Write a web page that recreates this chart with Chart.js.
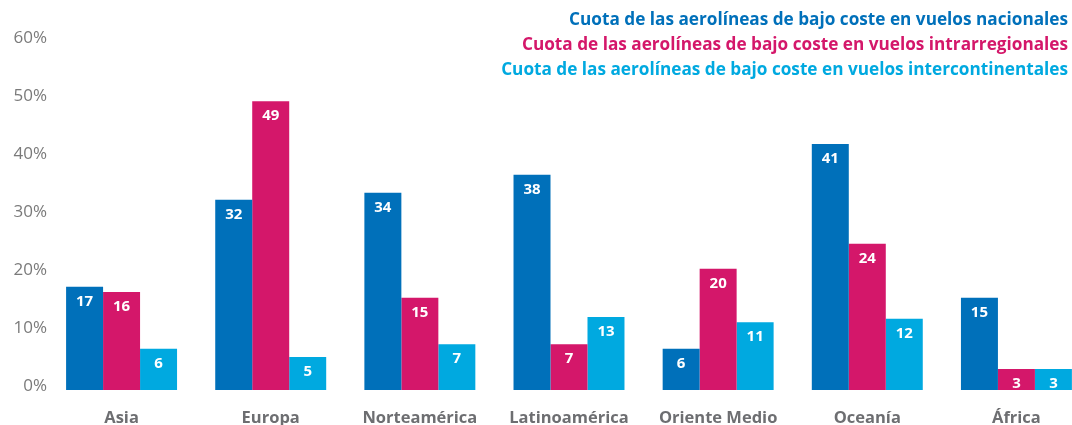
<!DOCTYPE html>
<html><head><meta charset="utf-8">
<script src="https://cdn.jsdelivr.net/npm/chart.js@4/dist/chart.umd.min.js"></script>
<style>
html,body{margin:0;padding:0;background:#fff;overflow:hidden;}
#wrap{position:absolute;left:0;top:0;width:1091px;height:425px;}
</style></head>
<body>
<div id="wrap"><canvas id="c" width="1091" height="425"></canvas></div>
<script>
const categories = ['Asia','Europa','Norteamérica','Latinoamérica','Oriente Medio','Oceanía','África'];
const seriesNames = [
  'Cuota de las aerolíneas de bajo coste en vuelos nacionales',
  'Cuota de las aerolíneas de bajo coste en vuelos intrarregionales',
  'Cuota de las aerolíneas de bajo coste en vuelos intercontinentales'
];
// bar heights as drawn (percent)
const nacionales = [17.1, 32.1, 33.3, 36.4, 6.4, 41.7, 15.2];
const intrarregionales = [16.2, 49.1, 15.2, 7.2, 20.2, 24.5, 2.9];
const intercontinentales = [6.4, 5.0, 7.2, 11.9, 11.0, 11.6, 2.9];
// printed value labels
const labelsNacionales = ['17','32','34','38','6','41','15'];
const labelsIntrarregionales = ['16','49','15','7','20','24','3'];
const labelsIntercontinentales = ['6','5','7','13','11','12','3'];
const yTicks = [0,10,20,30,40,50,60];

const colors = ['#0070ba','#d4176a','#00a9e0'];
const FONT = '"Open Sans", "DejaVu Sans", sans-serif';
const allLabels = [labelsNacionales, labelsIntrarregionales, labelsIntercontinentales];

const valueLabels = {
  id:'valueLabels',
  afterDatasetsDraw(chart){
    const ctx = chart.ctx;
    ctx.save();
    ctx.fillStyle = '#ffffff';
    ctx.font = 'bold 15px ' + FONT;
    ctx.textAlign = 'center';
    ctx.textBaseline = 'middle';
    chart.data.datasets.forEach((ds, i) => {
      chart.getDatasetMeta(i).data.forEach((el, j) => {
        ctx.fillText(allLabels[i][j], el.x, el.y + 15);
      });
    });
    ctx.restore();
  }
};
const textLegend = {
  id:'textLegend',
  afterDraw(chart){
    const ctx = chart.ctx;
    ctx.save();
    ctx.font = 'bold 17.2px ' + FONT;
    ctx.textAlign = 'right';
    ctx.textBaseline = 'middle';
    seriesNames.forEach((n, i) => {
      ctx.fillStyle = colors[i];
      ctx.fillText(n, 1068, 20 + i * 25);
    });
    ctx.restore();
  }
};

new Chart(document.getElementById('c'), {
  type:'bar',
  data:{
    labels: categories,
    datasets:[
      {label:seriesNames[0], data:nacionales, backgroundColor:colors[0], base:-0.7},
      {label:seriesNames[1], data:intrarregionales, backgroundColor:colors[1], base:-0.7},
      {label:seriesNames[2], data:intercontinentales, backgroundColor:colors[2], base:-0.7}
    ]
  },
  options:{
    responsive:false,
    animation:false,
    layout:{padding:{top:38,left:0,right:0,bottom:0}},
    datasets:{bar:{categoryPercentage:0.744, barPercentage:1.0, borderWidth:0}},
    plugins:{legend:{display:false}, tooltip:{enabled:false}},
    scales:{
      x:{
        grid:{display:false, drawTicks:false},
        border:{display:false},
        afterFit(scale){ scale.height = 35; },
        ticks:{color:'#6d6e71', font:{family:FONT, size:16.5, weight:'bold'}, padding:18}
      },
      y:{
        min:-0.7, max:60,
        grid:{display:false, drawTicks:false},
        border:{display:false},
        afterBuildTicks(scale){ scale.ticks = yTicks.map(v => ({value:v})); },
        afterFit(scale){ scale.width = 47; },
        ticks:{color:'#7a7a7a', font:{family:FONT, size:17}, padding:0,
          callback:(v)=> v + '%'}
      }
    }
  },
  plugins:[valueLabels, textLegend]
});
</script>
</body></html>
